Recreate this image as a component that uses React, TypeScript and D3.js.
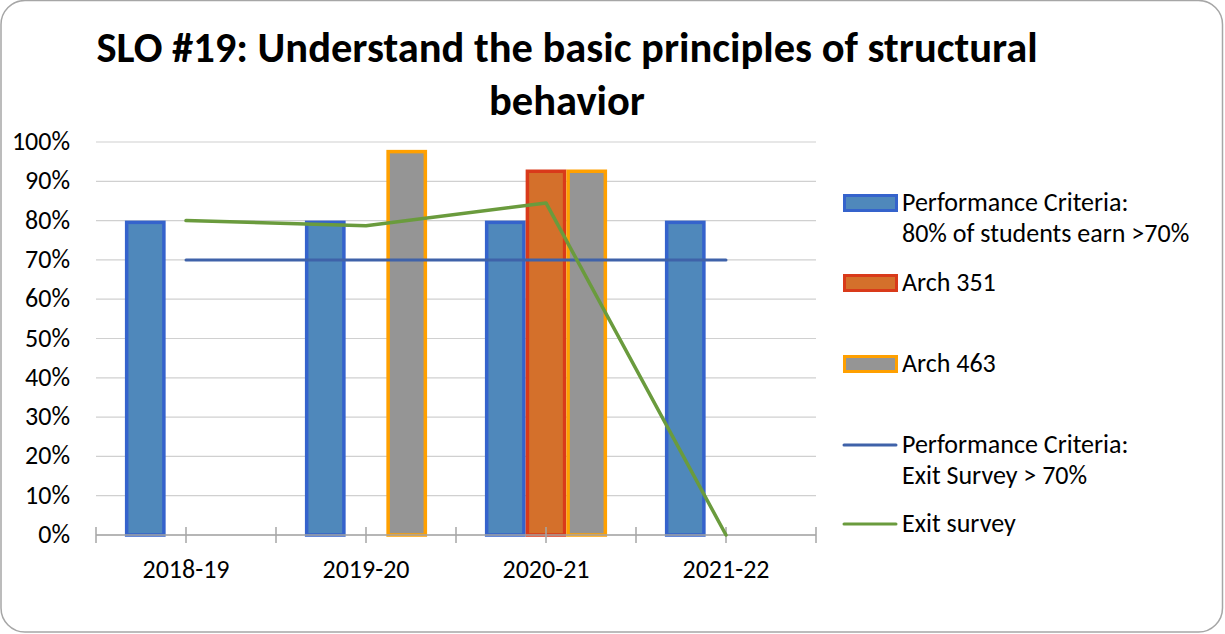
import React from "react";
import * as d3 from "d3";

const categories = ["2018-19", "2019-20", "2020-21", "2021-22"];
const perfCriteriaBars = [0.8, 0.8, 0.8, 0.8];
const arch351 = [null, null, 0.93, null];
const arch463 = [null, 0.98, 0.93, null];
const exitCriteria = [0.7, 0.7, 0.7, 0.7];
const exitSurvey = [0.8, 0.787, 0.845, 0];
const yTicks = [0, 0.1, 0.2, 0.3, 0.4, 0.5, 0.6, 0.7, 0.8, 0.9, 1.0];
const barSeries = ["perf", "a351", "a463"];
const titleLines = ["SLO #19: Understand the basic principles of structural", "behavior"];

const W = 1225;
const H = 634;
const FONT = "Carlito, Calibri, Lato, 'Open Sans', sans-serif";

const barStyles: Record<string, { fill: string; stroke: string }> = {
  perf: { fill: "#4f88bb", stroke: "#3563cc" },
  a351: { fill: "#d4702b", stroke: "#d93a1a" },
  a463: { fill: "#959595", stroke: "#ffa000" },
};

export default function App() {
  const x = d3.scaleBand<string>().domain(categories).range([96, 816]).paddingInner(0).paddingOuter(0);
  const bw = x.bandwidth();
  const x1 = d3.scaleBand<string>().domain(barSeries).range([0, bw]).paddingInner(0).paddingOuter(0.71);
  const y = d3.scaleLinear().domain([0, 1]).range([535, 142]);
  const fmt = d3.format(".0%");

  const barData: { s: string; vals: (number | null)[] }[] = [
    { s: "perf", vals: perfCriteriaBars },
    { s: "a351", vals: arch351 },
    { s: "a463", vals: arch463 },
  ];

  const tickXs: number[] = [];
  categories.forEach((c) => {
    tickXs.push(x(c)!);
    tickXs.push(x(c)! + bw / 2);
  });
  tickXs.push(x.range()[1]);

  const line = d3
    .line<number>()
    .x((_, i) => x(categories[i])! + bw / 2)
    .y((d) => y(d));

  const legendItems = [
    { type: "rect", key: "perf", cy: 203, lines: ["Performance Criteria:", "80% of students earn >70%"] },
    { type: "rect", key: "a351", cy: 283, lines: ["Arch 351"] },
    { type: "rect", key: "a463", cy: 364, lines: ["Arch 463"] },
    { type: "line", color: "#3f62a9", cy: 445, lines: ["Performance Criteria:", "Exit Survey > 70%"] },
    { type: "line", color: "#6a9b3d", cy: 524, lines: ["Exit survey"] },
  ];

  return (
    <svg
      width={W}
      height={H}
      style={{ position: "fixed", left: 0, top: 0, background: "#fff" }}
      fontFamily={FONT}
    >
      <rect x={1} y={0.5} width={1221.5} height={631.5} rx={24} ry={24} fill="#fff" stroke="#a6a6a6" strokeWidth={1.5} />

      {titleLines.map((t, i) => (
        <text key={i} x={567} y={62 + i * 53} textAnchor="middle" fontSize={42.5} fontWeight="bold" fill="#000">
          {t}
        </text>
      ))}

      {yTicks.map((t) => (
        <g key={t}>
          <line x1={96} x2={816} y1={y(t)} y2={y(t)} stroke="#d0d0d0" strokeWidth={1.2} />
          <text x={70} y={y(t) + 8} textAnchor="end" fontSize={26} fill="#000">
            {fmt(t)}
          </text>
        </g>
      ))}

      {barData.map((bd) =>
        bd.vals.map((v, i) =>
          v == null ? null : (
            <rect
              key={bd.s + i}
              x={x(categories[i])! + x1(bd.s)! + 1.75}
              y={y(v) + 1.75}
              width={x1.bandwidth() - 3.5}
              height={y(0) - y(v) - 1.75}
              fill={barStyles[bd.s].fill}
              stroke={barStyles[bd.s].stroke}
              strokeWidth={3.5}
            />
          )
        )
      )}

      <line x1={96} x2={816} y1={y(0)} y2={y(0)} stroke="#a6a6a6" strokeWidth={1.5} />
      {tickXs.map((tx, i) => (
        <line key={i} x1={tx} x2={tx} y1={527} y2={543} stroke="#a6a6a6" strokeWidth={1.5} />
      ))}

      <path d={line(exitCriteria)!} fill="none" stroke="#3f62a9" strokeWidth={3} strokeLinecap="round" />
      <path d={line(exitSurvey)!} fill="none" stroke="#6a9b3d" strokeWidth={3.5} strokeLinecap="round" strokeLinejoin="round" />

      {categories.map((c) => (
        <text key={c} x={x(c)! + bw / 2} y={578} textAnchor="middle" fontSize={26} fill="#000">
          {c}
        </text>
      ))}

      {legendItems.map((it, i) => (
        <g key={i}>
          {it.type === "rect" ? (
            <rect
              x={844.5}
              y={it.cy - 7.5}
              width={52}
              height={15}
              fill={barStyles[it.key!].fill}
              stroke={barStyles[it.key!].stroke}
              strokeWidth={3}
            />
          ) : (
            <line x1={844} x2={896} y1={it.cy} y2={it.cy} stroke={it.color} strokeWidth={3} strokeLinecap="round" />
          )}
          {it.lines.map((l, j) => (
            <text key={j} x={902} y={it.cy + 8 + j * 31} fontSize={26} fill="#000">
              {l}
            </text>
          ))}
        </g>
      ))}
    </svg>
  );
}
